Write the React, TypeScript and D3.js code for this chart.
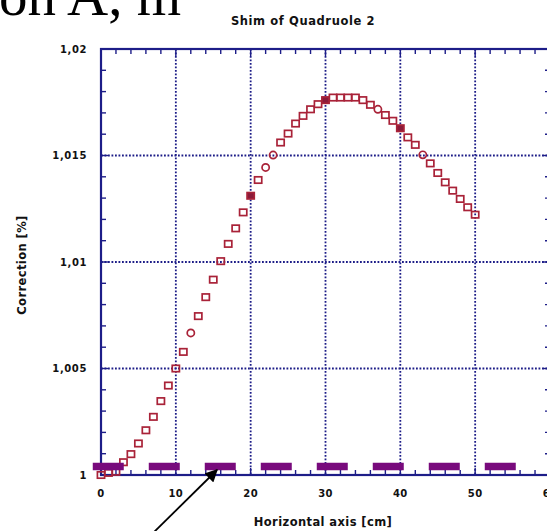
import React from "react";
import * as d3 from "d3";

const xValues = [
  0, 1, 2, 3, 4, 5, 6, 7, 8, 9, 10, 11, 12, 13, 14, 15, 16, 17, 18, 19, 20, 21, 22, 23, 24, 25,
  26, 27, 28, 29, 30, 31, 32, 33, 34, 35, 36, 37, 38, 39, 40, 41, 42, 43, 44, 45, 46, 47, 48, 49, 50,
];
const correction = [
  1.0, 1.0001, 1.00015, 1.0006, 1.00098, 1.00148, 1.0021, 1.00273, 1.00347, 1.0042, 1.005,
  1.00578, 1.00667, 1.00746, 1.00835, 1.00917, 1.01004, 1.01085, 1.01158, 1.01233, 1.01311,
  1.01385, 1.01444, 1.01502, 1.01561, 1.01603, 1.0165, 1.01686, 1.01717, 1.01741, 1.0176,
  1.01772, 1.01772, 1.01772, 1.01772, 1.0176, 1.01738, 1.01717, 1.0169, 1.01663, 1.01628,
  1.01585, 1.0155, 1.01503, 1.01463, 1.01418, 1.01374, 1.01335, 1.01296, 1.01257, 1.01222,
];
const circleAt = [12, 22, 23, 37, 43];
const filledAt = [20, 30, 40];

const xMajorTicks = [0, 10, 20, 30, 40, 50, 60];
const xTickLabels = ["0", "10", "20", "30", "40", "50", "60"];
const yMajorTicks = [1, 1.005, 1.01, 1.015, 1.02];
const yTickLabels = ["1", "1,005", "1,01", "1,015", "1,02"];

const thresholdValue = 1.0004;
const thresholdFrom = -1.1;
const thresholdTo = 55.6;

const title = "Shim of Quadruole 2";
const xLabel = "Horizontal axis [cm]";
const yLabel = "Correction [%]";
const slideText = "on A, m";

const W = 547;
const H = 531;
const navy = "#1d1d88";
const red = "#a92238";
const purple = "#780a7c";
const labelFont = "'DejaVu Sans', sans-serif";

export default function App() {
  const x = d3.scaleLinear().domain([0, 60]).range([101, 550]);
  const y = d3.scaleLinear().domain([1, 1.02]).range([475, 49]);
  const [x0, x1] = x.range();
  const [y0, y1] = y.range();

  const xMinor = d3.range(0, 60.001, 2);
  const yMinor = d3.range(1, 1.02001, 0.001);

  const points = xValues.map((xv, i) => ({ xv, v: correction[i] }));

  return (
    <svg
      width={W}
      height={H}
      style={{ position: "fixed", left: 0, top: 0, background: "#fff" }}
      fontFamily={labelFont}
    >
      <rect width={W} height={H} fill="#fff" />
      {/* slide text partially cut */}
      <text x={-1} y={15} fontFamily="'Liberation Serif', 'Times New Roman', serif" fontSize={57} fill="#000">
        {slideText}
      </text>

      {/* title */}
      <text x={303} y={25} textAnchor="middle" fontSize={11.5} fontWeight="bold" letterSpacing={0.6} fill="#111">
        {title}
      </text>

      {/* grid */}
      {xMajorTicks.filter((t) => t > 0 && t < 60).map((t) => (
        <line key={"gx" + t} x1={x(t)} x2={x(t)} y1={y1} y2={y0} stroke={navy} strokeWidth={1.8} strokeDasharray="1.8 1.7" />
      ))}
      {yMajorTicks.filter((t) => t > 1 && t < 1.02).map((t) => (
        <line key={"gy" + t} x1={x0} x2={x1} y1={y(t)} y2={y(t)} stroke={navy} strokeWidth={1.8} strokeDasharray="1.8 1.7" />
      ))}

      {/* minor ticks */}
      {xMinor.map((t) => {
        const major = t % 10 === 0;
        const len = major ? 7 : 5;
        return (
          <g key={"xt" + t}>
            <line x1={x(t)} x2={x(t)} y1={y0} y2={y0 - len} stroke={navy} strokeWidth={1.4} />
            <line x1={x(t)} x2={x(t)} y1={y1} y2={y1 + len} stroke={navy} strokeWidth={1.4} />
          </g>
        );
      })}
      {yMinor.map((t, i) => {
        const major = i % 5 === 0;
        const len = major ? 7 : 5;
        return (
          <g key={"yt" + i}>
            <line x1={x0} x2={x0 + len} y1={y(t)} y2={y(t)} stroke={navy} strokeWidth={1.4} />
            <line x1={x1} x2={x1 - len} y1={y(t)} y2={y(t)} stroke={navy} strokeWidth={1.4} />
          </g>
        );
      })}

      {/* frame */}
      <rect x={x0} y={y1} width={x1 - x0} height={y0 - y1} fill="none" stroke={navy} strokeWidth={2.2} />

      {/* tick labels */}
      {xMajorTicks.map((t, i) => (
        <text key={"xl" + t} x={x(t)} y={497} textAnchor="middle" fontSize={10} fontWeight="bold" letterSpacing={0.4} fill="#111">
          {xTickLabels[i]}
        </text>
      ))}
      {yMajorTicks.map((t, i) => (
        <text key={"yl" + t} x={87} y={y(t) + 3.5} textAnchor="end" fontSize={10} fontWeight="bold" letterSpacing={0.6} fill="#111">
          {yTickLabels[i]}
        </text>
      ))}

      {/* axis labels */}
      <text x={323} y={526} textAnchor="middle" fontSize={11.5} fontWeight="bold" letterSpacing={0.4} fill="#111">
        {xLabel}
      </text>
      <text
        transform={`translate(26,265) rotate(-90)`}
        textAnchor="middle"
        fontSize={11.5}
        fontWeight="bold"
        letterSpacing={0.4}
        fill="#111"
      >
        {yLabel}
      </text>

      {/* data markers */}
      {points.map((p) => {
        const cx = x(p.xv);
        const cy = y(p.v);
        if (circleAt.includes(p.xv)) {
          return <circle key={"p" + p.xv} cx={cx} cy={cy} r={3.6} fill="none" stroke={red} strokeWidth={1.7} />;
        }
        const filled = filledAt.includes(p.xv);
        return (
          <rect
            key={"p" + p.xv}
            x={cx - 3.6}
            y={cy - 3.2}
            width={7.2}
            height={6.4}
            fill={filled ? "#8a1a3a" : "none"}
            stroke={red}
            strokeWidth={1.7}
          />
        );
      })}

      {/* purple dashed reference line */}
      <line
        x1={x(thresholdFrom)}
        x2={x(thresholdTo)}
        y1={y(thresholdValue)}
        y2={y(thresholdValue)}
        stroke={purple}
        strokeWidth={7.5}
        strokeDasharray="31 25"
      />

      {/* arrow */}
      <defs>
        <marker id="ah" viewBox="0 0 10 10" refX="9" refY="5" markerWidth="7" markerHeight="7" orient="auto">
          <path d="M0,0 L10,5 L0,10 Z" fill="#000" />
        </marker>
      </defs>
      <line x1={150} y1={536} x2={217} y2={470} stroke="#000" strokeWidth={1.8} markerEnd="url(#ah)" />
    </svg>
  );
}
